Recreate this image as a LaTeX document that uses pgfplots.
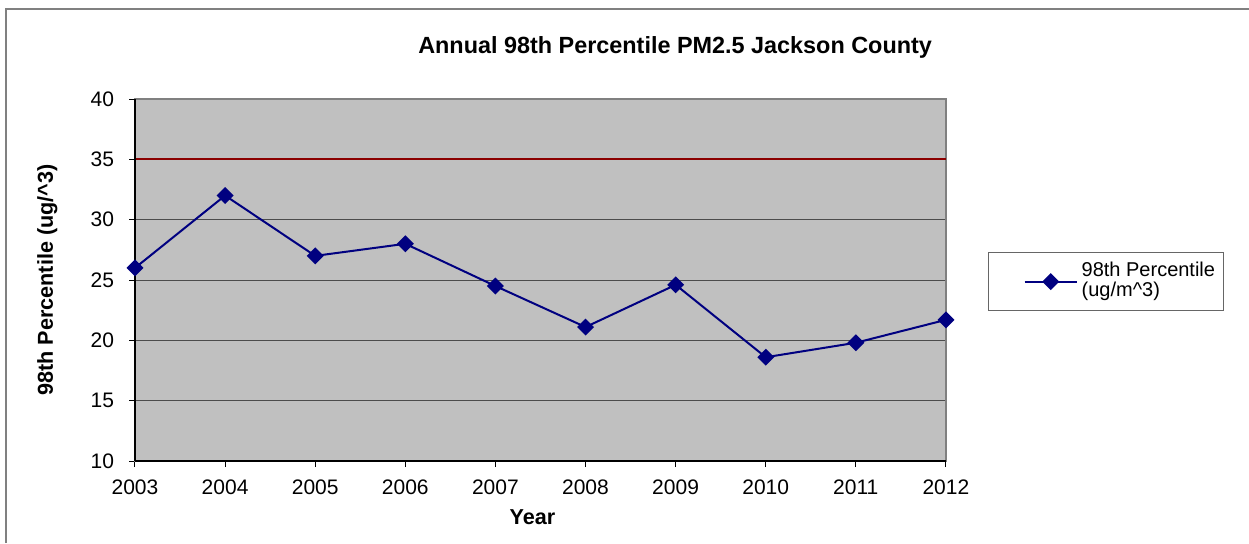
\documentclass[border=0pt]{standalone}
\usepackage{pgfplots}
\pgfplotsset{compat=1.18}
\usepackage{fontspec}
\setmainfont{Liberation Sans}
\definecolor{navy}{HTML}{000080}
\definecolor{darkred}{HTML}{8B0000}
\definecolor{plotbg}{HTML}{C0C0C0}
\begin{document}
\begin{tikzpicture}
\useasboundingbox (0pt,0pt) rectangle (624.5pt,271.5pt);
\draw[black!50, line width=0.9pt] (3pt,0pt) -- (3pt,267pt) -- (624.5pt,267pt);
\begin{axis}[
  at={(67.5pt,41pt)}, anchor=south west,
  scale only axis, width=405.5pt, height=181pt,
  xmin=2003, xmax=2012, ymin=10, ymax=40,
  xtick={2003,...,2012}, ytick={10,15,...,40},
  /pgf/number format/assume math mode=true,
  /pgf/number format/1000 sep={},
  tick align=outside, tick pos=left, major tick length=3pt,
  tick style={black, line width=0.5pt},
  axis background/.style={fill=plotbg},
  axis line style={draw=black!50, line width=1pt},
  ymajorgrids, major grid style={black!70, line width=0.5pt},
  ticklabel style={font=\fontsize{10.5}{12}\selectfont},
  yticklabel style={xshift=-4pt},
  xticklabel style={yshift=-3pt},
  title={\bfseries Annual 98th Percentile PM2.5 Jackson County},
  title style={at={(axis description cs:0.666,1.11)}, anchor=center, font=\fontsize{11.7}{14}\selectfont},
  xlabel={\bfseries Year},
  xlabel style={at={(axis description cs:0.49,-0.155)}, anchor=center, font=\fontsize{10.8}{13}\selectfont},
  ylabel={\bfseries 98th Percentile (ug/\textasciicircum 3)},
  ylabel style={at={(axis description cs:-0.108,0.5)}, anchor=center, font=\fontsize{10.8}{13}\selectfont},
  legend cell align=left,
  legend style={at={(axis description cs:1.052,0.577)}, anchor=north west,
    draw=black!60, line width=0.5pt, font=\fontsize{10}{11}\selectfont,
    inner xsep=2pt, inner ysep=2pt, nodes={text depth=}},
  legend image code/.code={
    \path[draw=none] (-16pt,0pt) -- (26pt,0pt);
    \draw[#1, mark repeat=2, mark phase=2] plot coordinates {(0pt,0pt) (13pt,0pt) (26pt,0pt)};
  },
  clip=false,
]
\addplot[darkred, line width=1pt, forget plot] coordinates {(2003,35) (2012,35)};
\draw[black, line width=0.7pt] (axis cs:2003,10) -- (axis cs:2003,40);
\draw[black, line width=0.7pt] (axis cs:2003,10) -- (axis cs:2012,10);
\addplot[navy, line width=1pt, mark=square*, mark size=2.5pt,
  mark options={rotate=45, solid, fill=navy}] coordinates {
  (2003,26) (2004,32) (2005,27) (2006,28) (2007,24.5)
  (2008,21.1) (2009,24.6) (2010,18.6) (2011,19.8) (2012,21.7)
};
\addlegendentry{\begin{tabular}[t]{@{}l@{}}98th Percentile\\[-1pt](ug/m\textasciicircum 3)\end{tabular}}
\end{axis}
\end{tikzpicture}
\end{document}
